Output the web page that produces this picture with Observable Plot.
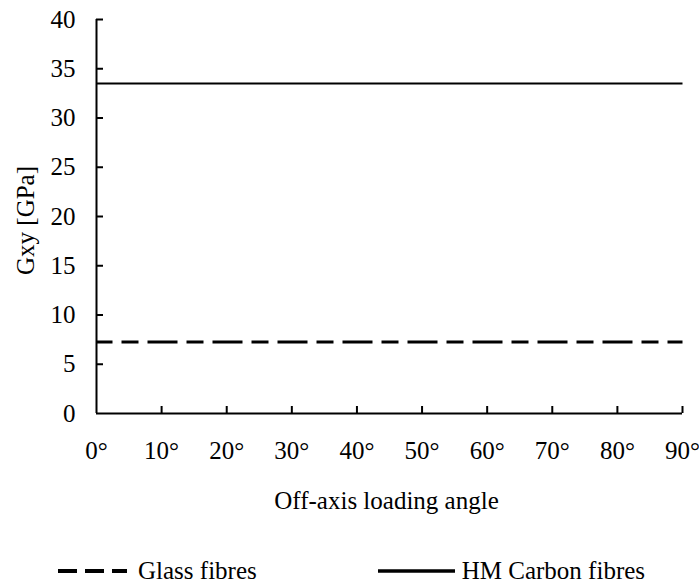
<!DOCTYPE html>
<html>
<head>
<meta charset="utf-8">
<script src="https://cdn.jsdelivr.net/npm/d3@7"></script>
<script src="https://cdn.jsdelivr.net/npm/@observablehq/plot@0.6"></script>
<style>
  html, body { margin: 0; padding: 0; background: #fff; }
  body { font-family: 'Liberation Serif', 'Times New Roman', serif; color: #000; width: 699px; }
  #chart svg { display: block; overflow: visible; }
  #chart svg, #chart svg text { font-family: 'Liberation Serif', 'Times New Roman', serif !important; font-size: 25px; }
  .legend { display: flex; align-items: center; height: 25px; margin-top: 28px; font-size: 25px; line-height: 25px; }
  .legend .item { display: flex; align-items: center; }
  .legend svg { display: block; }
</style>
</head>
<body>
<div id="chart"></div>
<div class="legend" id="legend"></div>
<script>
// ---- data ----
const angles = [0, 10, 20, 30, 40, 50, 60, 70, 80, 90];
const glassGxy = [7.25, 7.25, 7.25, 7.25, 7.25, 7.25, 7.25, 7.25, 7.25, 7.25];
const carbonGxy = [33.5, 33.5, 33.5, 33.5, 33.5, 33.5, 33.5, 33.5, 33.5, 33.5];
const seriesNames = ["Glass fibres", "HM Carbon fibres"];
const yTicks = [0, 5, 10, 15, 20, 25, 30, 35, 40];
const xTicks = [0, 10, 20, 30, 40, 50, 60, 70, 80, 90];
const xLabel = "Off-axis loading angle";
const yLabel = "Gxy [GPa]";

const glass = angles.map((a, i) => ({angle: a, g: glassGxy[i]}));
const carbon = angles.map((a, i) => ({angle: a, g: carbonGxy[i]}));

const serif = "Liberation Serif, Times New Roman, serif";

const chart = Plot.plot({
  width: 699,
  height: 530,
  marginLeft: 96,
  marginRight: 17,
  marginTop: 19,
  marginBottom: 117,
  style: {fontFamily: serif, fontSize: "25px", color: "#000", background: "#fff", overflow: "visible"},
  x: {domain: [0, 90]},
  y: {domain: [0, 40]},
  marks: [
    // inward ticks
    Plot.axisY({ticks: yTicks.filter(d => d > 0), tickSize: 7, dx: 7, tickFormat: () => "", strokeWidth: 2, label: null}),
    Plot.axisX({ticks: xTicks.filter(d => d > 0), tickSize: 7, dy: -7, tickFormat: () => "", strokeWidth: 2, label: null}),
    // labels
    Plot.axisY({ticks: yTicks, tickSize: 0, tickPadding: 21, label: null, fontFamily: serif, fontSize: 25}),
    Plot.axisX({ticks: xTicks, tickSize: 0, tickPadding: 28, tickFormat: d => d + "°", label: null, fontFamily: serif, fontSize: 25}),
    // axis lines
    Plot.ruleX([0], {stroke: "#000", strokeWidth: 2}),
    Plot.ruleY([0], {stroke: "#000", strokeWidth: 2}),
    // series
    Plot.line(carbon, {x: "angle", y: "g", stroke: "#000", strokeWidth: 2, strokeLinecap: "butt"}),
    Plot.line(glass, {x: "angle", y: "g", stroke: "#000", strokeWidth: 3, strokeLinecap: "butt", strokeDasharray: "30,9,17,9", strokeDashoffset: 14}),
    // axis titles
    Plot.text([xLabel], {frameAnchor: "bottom", textAnchor: "middle", lineAnchor: "top", dx: -3, dy: 78, text: d => d, fill: "#000", fontSize: 25, fontFamily: serif}),
    Plot.text([yLabel], {frameAnchor: "left", textAnchor: "middle", lineAnchor: "middle", rotate: -90, dx: -71, dy: 4, text: d => d, fill: "#000", fontSize: 25, fontFamily: serif})
  ]
});
document.getElementById("chart").appendChild(chart);

// ---- legend ----
const legend = document.getElementById("legend");
const legendStyles = [
  {dash: "19,8", width: 4, swatchW: 69, marginLeft: 58, gap: 11},
  {dash: null, width: 3.5, swatchW: 77, marginLeft: 121, gap: 7}
];
seriesNames.forEach((name, i) => {
  const st = legendStyles[i];
  const item = document.createElement("div");
  item.className = "item";
  item.style.marginLeft = st.marginLeft + "px";
  const sw = d3.create("svg").attr("width", st.swatchW).attr("height", 8);
  sw.append("line").attr("x1", 0).attr("x2", st.swatchW).attr("y1", 4).attr("y2", 4)
    .attr("stroke", "#000").attr("stroke-width", st.width)
    .attr("stroke-dasharray", st.dash);
  item.appendChild(sw.node());
  const t = document.createElement("span");
  t.textContent = name;
  t.style.marginLeft = st.gap + "px";
  item.appendChild(t);
  legend.appendChild(item);
});
</script>
</body>
</html>
